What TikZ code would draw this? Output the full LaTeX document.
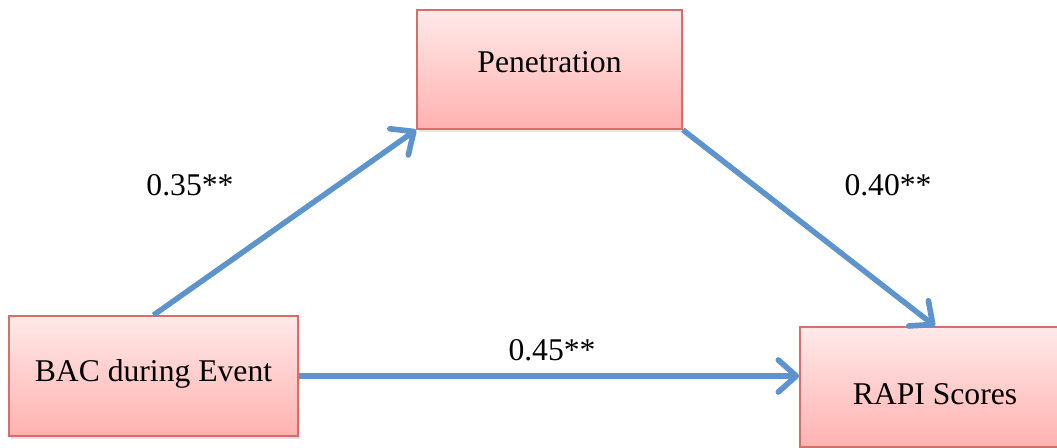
\documentclass[tikz,border=0pt]{standalone}
\usepackage{fontspec}
\setmainfont{Liberation Serif}
\usetikzlibrary{arrows.meta,shadows}
\definecolor{boxtop}{RGB}{255,233,233}
\definecolor{boxbottom}{RGB}{255,178,176}
\definecolor{boxline}{RGB}{215,110,105}
\definecolor{pathblue}{RGB}{93,148,205}
\tikzset{
  varbox/.style={draw=boxline, line width=1.2pt, top color=boxtop, bottom color=boxbottom,
    drop shadow={shadow xshift=1.5pt, shadow yshift=-2pt, fill=black!25, opacity=0.4},
    font=\fontsize{22.5}{27}\selectfont},
  patharrow/.style={draw=pathblue, line width=3.9pt,
    -{Straight Barb[length=4.5mm,width=8mm,line width=4pt,round]}},
  coef/.style={font=\fontsize{22.5}{27}\selectfont}
}
\begin{document}
\begin{tikzpicture}[x=0.025cm, y=-0.025cm]
    \clip (0,0) rectangle (1057,447);
    \fill[white] (0,0) rectangle (1057,447);

    % Mediator
    \node[varbox, minimum width=6.625cm, minimum height=2.975cm, text depth=0.35cm] (pen) at (549.5,69.5) {Penetration};

    % Predictor and outcome
    \node[varbox, minimum width=7.225cm, minimum height=3cm, text depth=0.25cm] (bac) at (153.5,376) {BAC during Event};
    \node[varbox, minimum width=6.75cm, minimum height=3cm, text height=0.9cm] (rapi) at (935,387) {RAPI Scores};

    % Paths
    \draw[patharrow] (bac.north) -- (pen.south west);
    \draw[patharrow] (pen.south east) -- (rapi.north);
    \draw[patharrow] (bac.east) -- (bac.east -| rapi.west);

    % Coefficients
    \node[coef] (a) at (190,185) {0.35**};
    \node[coef] (b) at (888,185) {0.40**};
    \node[coef] (c) at (552,350) {0.45**};
\end{tikzpicture}
\end{document}
